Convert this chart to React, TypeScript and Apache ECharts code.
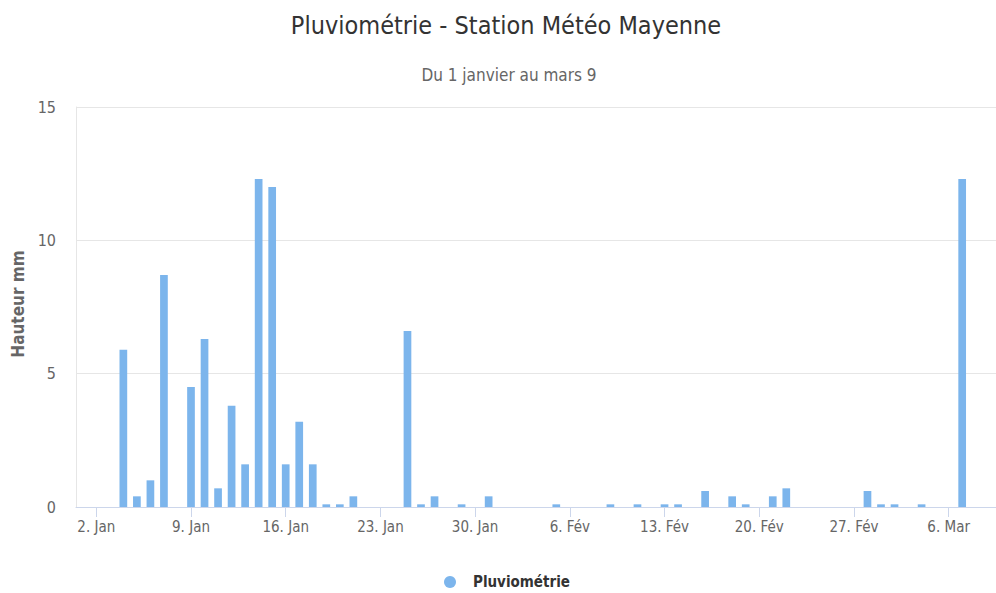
import React, { useEffect, useRef } from "react";
import * as echarts from "echarts";

// Rainfall (mm) per day
const janRain = [
  0, 0, 0, 5.9, 0.4, 1.0, 8.7, 0, 4.5, 6.3, 0.7, 3.8, 1.6, 12.3, 12.0, 1.6,
  3.2, 1.6, 0.1, 0.1, 0.4, 0, 0, 0, 6.6, 0.1, 0.4, 0, 0.1, 0, 0.4,
];
const febRain = [
  0, 0, 0, 0, 0.1, 0, 0, 0, 0.1, 0, 0.1, 0, 0.1, 0.1, 0, 0.6, 0, 0.4, 0.1, 0,
  0.4, 0.7, 0, 0, 0, 0, 0, 0.6,
];
const marRain = [0.1, 0.1, 0, 0.1, 0, 0, 12.3, 0, 0];

const monthLabels = ["Jan", "Fév", "Mar"];
const monthRain = [janRain, febRain, marRain];

const yTicks = [0, 5, 10, 15];

const TITLE = "Pluviométrie - Station Météo Mayenne";
const SUBTITLE = "Du 1 janvier au mars 9";
const SERIES_NAME = "Pluviométrie";
const Y_NAME = "Hauteur mm";

const categories: string[] = [];
const values: number[] = [];
monthRain.forEach((arr, m) => {
  arr.forEach((v, d) => {
    categories.push(`${d + 1}. ${monthLabels[m]}`);
    values.push(v);
  });
});

const CONDENSED =
  "'Liberation Sans Narrow', 'DejaVu Sans Condensed', 'Open Sans', sans-serif";

export default function App() {
  const ref = useRef<HTMLDivElement>(null);
  useEffect(() => {
    if (!ref.current) return;
    const chart = echarts.init(ref.current, undefined, { renderer: "svg" });
    const showIdx = (i: number) => i % 7 === 1;
    chart.setOption({
      animation: false,
      backgroundColor: "#ffffff",
      title: [
        {
          text: TITLE,
          left: 501,
          top: 8,
          textAlign: "center",
          textStyle: {
            fontFamily: CONDENSED,
            fontSize: 25,
            fontWeight: "normal",
            color: "#333333",
          },
        },
        {
          text: SUBTITLE,
          left: 504,
          top: 61,
          textAlign: "center",
          textStyle: {
            fontFamily: CONDENSED,
            fontSize: 17,
            fontWeight: "normal",
            color: "#666666",
          },
        },
      ],
      legend: {
        top: 567,
        left: 439,
        icon: "circle",
        itemWidth: 36,
        itemHeight: 12,
        itemGap: 8,
        textStyle: {
          fontFamily: CONDENSED,
          fontSize: 15,
          lineHeight: 20,
          fontWeight: "bold",
          color: "#333333",
        },
        data: [SERIES_NAME],
      },
      grid: { left: 76, right: -4, top: 107, bottom: 86, containLabel: false },
      xAxis: {
        type: "category",
        data: categories,
        boundaryGap: true,
        axisLine: { show: true, lineStyle: { color: "#ccd6eb", width: 1 } },
        axisTick: {
          show: true,
          alignWithLabel: true,
          interval: (i: number) => showIdx(i),
          length: 10,
          lineStyle: { color: "#ccd6eb" },
        },
        axisLabel: {
          interval: (i: number) => showIdx(i),
          margin: 12,
          fontFamily: CONDENSED,
          fontSize: 15,
          color: "#666666",
        },
        splitLine: { show: false },
      },
      yAxis: {
        type: "value",
        min: yTicks[0],
        max: yTicks[yTicks.length - 1],
        interval: 5,
        name: Y_NAME,
        nameLocation: "middle",
        nameGap: 49,
        nameRotate: 90,
        nameTextStyle: {
          fontFamily: CONDENSED,
          fontSize: 17,
          fontWeight: "bold",
          color: "#666666",
          padding: [0, 0, 0, 6],
        },
        axisLine: { show: true, lineStyle: { color: "#e6e6e6" } },
        axisTick: { show: false },
        axisLabel: {
          margin: 20,
          fontFamily: CONDENSED,
          fontSize: 16,
          color: "#666666",
        },
        splitLine: { show: true, lineStyle: { color: "#e6e6e6" } },
      },
      series: [
        {
          name: SERIES_NAME,
          type: "bar",
          data: values,
          barWidth: 7.7,
          itemStyle: { color: "#7cb5ec" },
        },
      ],
    });
    return () => chart.dispose();
  }, []);
  return (
    <div
      ref={ref}
      style={{ position: "fixed", left: 0, top: 0, width: 996, height: 593 }}
    />
  );
}
